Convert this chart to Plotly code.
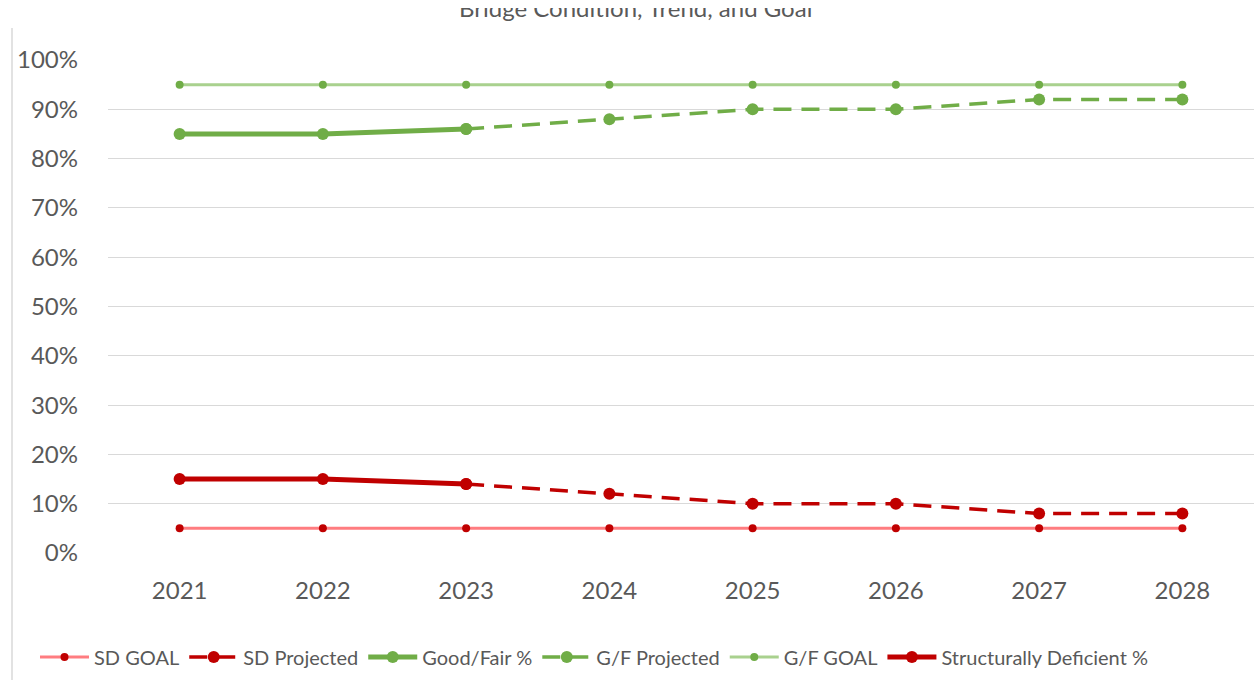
import plotly.graph_objects as go

# Years on the category axis
years = ["2021", "2022", "2023", "2024", "2025", "2026", "2027", "2028"]

# Series values (fractions of bridges)
sd_goal = [0.05, 0.05, 0.05, 0.05, 0.05, 0.05, 0.05, 0.05]
sd_projected = [None, None, 0.14, 0.12, 0.10, 0.10, 0.08, 0.08]
good_fair = [0.85, 0.85, 0.86, None, None, None, None, None]
gf_projected = [None, None, 0.86, 0.88, 0.90, 0.90, 0.92, 0.92]
gf_goal = [0.95, 0.95, 0.95, 0.95, 0.95, 0.95, 0.95, 0.95]
structurally_deficient = [0.15, 0.15, 0.14, None, None, None, None, None]

y_ticks = [i / 10 for i in range(11)]

DARK_RED = "#C00000"
PINK = "#FF7C80"
GREEN = "#70AD47"
LIGHT_GREEN = "#A9D18E"
TEXT = "#595959"
GRID = "#D9D9D9"
FONT = "Lato"

PLOT_TOP = 60      # px, top of plotting area
PLOT_BOTTOM = 553  # px, bottom of plotting area
PLOT_LEFT = 108
PLOT_W = 1254 - PLOT_LEFT
PLOT_H = PLOT_BOTTOM - PLOT_TOP


def py(px):
    """Pixel row -> paper y."""
    return (PLOT_BOTTOM - px) / PLOT_H


def px_x(px):
    """Pixel column -> paper x."""
    return (px - PLOT_LEFT) / PLOT_W


fig = go.Figure()

fig.add_trace(go.Scatter(
    x=years, y=sd_goal, name="SD GOAL", mode="lines+markers",
    line=dict(color=PINK, width=3),
    marker=dict(color=DARK_RED, size=8),
))
fig.add_trace(go.Scatter(
    x=years, y=sd_projected, name="SD Projected", mode="lines+markers",
    line=dict(color=DARK_RED, width=3.5, dash="18px,10px"),
    marker=dict(color=DARK_RED, size=12),
))
fig.add_trace(go.Scatter(
    x=years, y=good_fair, name="Good/Fair %", mode="lines+markers",
    line=dict(color=GREEN, width=5),
    marker=dict(color=GREEN, size=12),
))
fig.add_trace(go.Scatter(
    x=years, y=gf_projected, name="G/F Projected", mode="lines+markers",
    line=dict(color=GREEN, width=3.5, dash="18px,10px"),
    marker=dict(color=GREEN, size=12),
))
fig.add_trace(go.Scatter(
    x=years, y=gf_goal, name="G/F GOAL", mode="lines+markers",
    line=dict(color=LIGHT_GREEN, width=3),
    marker=dict(color=GREEN, size=8),
))
fig.add_trace(go.Scatter(
    x=years, y=structurally_deficient, name="Structurally Deficient %",
    mode="lines+markers",
    line=dict(color=DARK_RED, width=5),
    marker=dict(color=DARK_RED, size=12),
))

# Chart-area border on the left edge
fig.add_shape(
    type="line", xref="paper", yref="paper",
    x0=px_x(12), x1=px_x(12), y0=py(28), y1=py(680),
    line=dict(color=GRID, width=1.5),
)

# Title, sitting at the very top edge of the chart area
fig.add_annotation(
    text="Bridge Condition, Trend, and Goal",
    xref="paper", yref="paper", x=px_x(635), y=py(8),
    xanchor="center", yanchor="middle", showarrow=False,
    font=dict(family=FONT, size=24, color=TEXT),
)
# Upper strip of the chart area is outside the frame
fig.add_annotation(
    text=" ", xref="paper", yref="paper", x=px_x(635), y=py(0),
    xanchor="center", yanchor="top", showarrow=False,
    width=440, height=8, bgcolor="white", borderpad=0, borderwidth=0,
    font=dict(size=6),
)

fig.update_layout(
    width=1254, height=683,
    margin=dict(l=PLOT_LEFT, r=0, t=PLOT_TOP, b=683 - PLOT_BOTTOM),
    paper_bgcolor="white", plot_bgcolor="white",
    font=dict(family=FONT, color=TEXT),
    showlegend=True,
    legend=dict(
        orientation="h", x=px_x(35), xanchor="left",
        y=py(657), yanchor="middle",
        font=dict(family=FONT, size=20, color=TEXT),
        bgcolor="rgba(0,0,0,0)", itemwidth=49,
        traceorder="normal",
    ),
    xaxis=dict(
        type="category", range=[-0.5, 7.5],
        showgrid=False, showline=False, zeroline=False,
        ticks="", ticklabelstandoff=21,
        tickfont=dict(family=FONT, size=24, color=TEXT),
    ),
    yaxis=dict(
        range=[0, 1], tickvals=y_ticks, tickformat=".0%",
        showgrid=True, gridcolor=GRID, gridwidth=1.3,
        showline=False, zeroline=False,
        ticks="", ticklabelstandoff=29,
        tickfont=dict(family=FONT, size=24, color=TEXT),
    ),
)

fig.write_html("out.html")
